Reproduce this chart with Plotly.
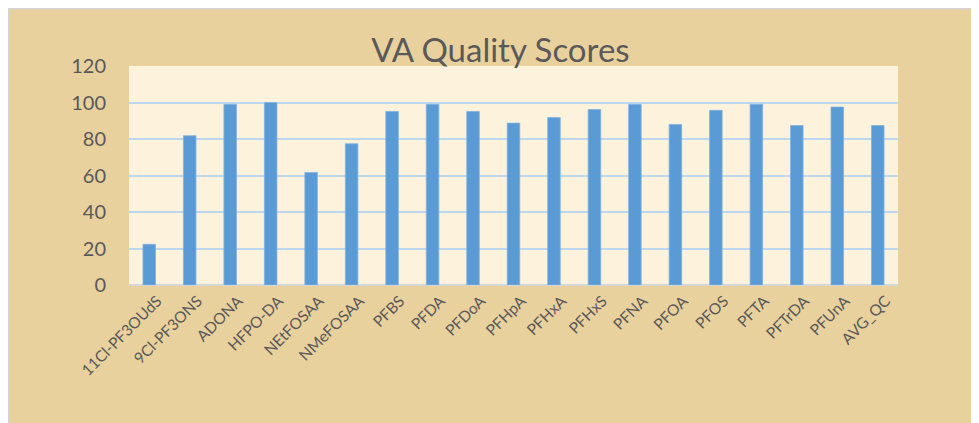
# Import dependencies
import plotly.graph_objects as go

# Chart data
compounds = ['11Cl-PF3OUdS', '9Cl-PF3ONS', 'ADONA', 'HFPO-DA', 'NEtFOSAA', 'NMeFOSAA',
             'PFBS', 'PFDA', 'PFDoA', 'PFHpA', 'PFHxA', 'PFHxS', 'PFNA', 'PFOA',
             'PFOS', 'PFTA', 'PFTrDA', 'PFUnA', 'AVG_QC']
scores = [22.3, 81.8, 99.0, 100.0, 61.7, 77.4, 95.1, 99.0, 95.1, 88.7,
          91.8, 96.2, 99.0, 88.0, 95.7, 99.0, 87.4, 97.5, 87.4]
y_ticks = [0, 20, 40, 60, 80, 100, 120]

text_color = '#595959'
font_name = 'Lato'

fig = go.Figure()

fig.add_trace(go.Bar(x = compounds,
                     y = scores,
                     marker = dict(color = '#5B9BD5', line = dict(color = '#7FB2E0', width = 0.8)),
                     hovertemplate = '%{x}: %{y:.1f}<extra></extra>'))

# Light grey chart border along the top and left edges
border_x = -121 / 769
border_y = 1 + 58 / 219
fig.add_shape(type = 'line', xref = 'paper', yref = 'paper',
              x0 = border_x, x1 = 1.2, y0 = border_y, y1 = border_y,
              line = dict(color = '#D4D4D4', width = 3), layer = 'below')
fig.add_shape(type = 'line', xref = 'paper', yref = 'paper',
              x0 = border_x, x1 = border_x, y0 = -0.8, y1 = border_y,
              line = dict(color = '#D4D4D4', width = 3), layer = 'below')

fig.update_layout(width = 979,
                  height = 423,
                  margin = dict(l = 121, r = 89, t = 58, b = 146),
                  paper_bgcolor = '#E9D19E',
                  plot_bgcolor = '#FDF3DC',
                  bargap = 0.69,
                  showlegend = False,
                  font = dict(family = font_name, color = text_color),
                  title = dict(text = 'VA Quality Scores',
                               x = 0.503, xanchor = 'center',
                               y = 1 - 42 / 423, yanchor = 'middle',
                               font = dict(family = font_name, size = 33, color = text_color)))

fig.update_xaxes(tickangle = -45,
                 tickfont = dict(size = 15.5, color = text_color),
                 showgrid = False,
                 ticks = '',
                 showline = False,
                 ticklabelstandoff = 3,
                 ticklabelshift = 8)

fig.update_yaxes(range = [0, 120],
                 tickvals = y_ticks,
                 tickfont = dict(size = 20, color = text_color),
                 showgrid = True,
                 gridcolor = '#BDD7EE',
                 gridwidth = 1.5,
                 zeroline = True,
                 zerolinecolor = '#D6D6D6',
                 zerolinewidth = 2,
                 ticklabelstandoff = 22)

fig.write_html("out.html")
